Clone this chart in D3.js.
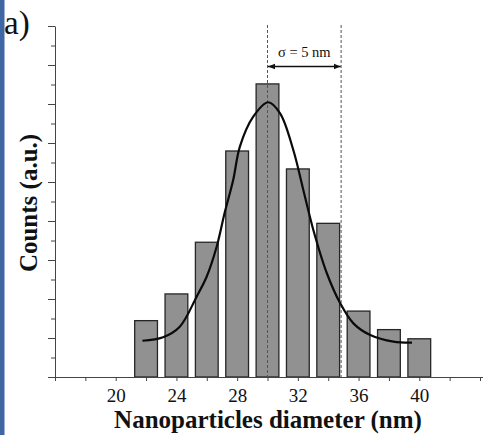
<!DOCTYPE html>
<html>
<head>
<meta charset="utf-8">
<script src="https://cdn.jsdelivr.net/npm/d3@7"></script>
<style>
  html, body { margin: 0; padding: 0; background: #fff; }
  svg { display: block; }
  text { font-family: "Liberation Serif", "Times New Roman", serif; fill: #111; }
</style>
</head>
<body>
<svg id="chart" width="485" height="435"></svg>
<script>
// Histogram bins (nm) and counts (a.u.)
const diameters = [22, 24, 26, 28, 30, 32, 34, 36, 38, 40];
const counts = [2.89, 4.26, 6.91, 11.59, 15.03, 10.67, 7.88, 3.38, 2.43, 1.96];
// Fitted curve
const fitX = [21.76, 23.12, 24.22, 25.33, 25.99, 26.65, 27.19, 27.74, 28.18, 29.06, 30.05,
              30.83, 31.70, 32.36, 33.02, 33.91, 34.79, 35.66, 36.77, 38.30, 39.52];
const fitY = [1.86, 2.04, 2.58, 4.12, 5.14, 6.68, 8.46, 10.1, 11.81, 13.35, 14.09,
              13.52, 11.64, 9.59, 7.54, 5.32, 3.78, 2.75, 2.15, 1.81, 1.76];
// Sigma markers
const sigmaLines = [30, 34.85];
const sigmaLabel = "σ = 5 nm";
const xTickLabels = [20, 24, 28, 32, 36, 40];

const svg = d3.select("#chart");
const m = { left: 55, right: 480, top: 26, bottom: 377 };

// Create scales
const x = d3.scaleLinear().domain([16, 44]).range([m.left, m.right]);
const y = d3.scaleLinear().domain([0, 18]).range([m.bottom, m.top]);

// Blue frame strip on the left
svg.append("rect").attr("x", 0).attr("y", 0).attr("width", 4.5).attr("height", 435).attr("fill", "#3e67a3");

// Bars
svg.append("g").selectAll("rect")
  .data(diameters)
  .join("rect")
    .attr("x", (d) => x(d - 0.75))
    .attr("width", x(1.5) - x(0))
    .attr("y", (d, i) => y(counts[i]))
    .attr("height", (d, i) => y(0) - y(counts[i]))
    .attr("fill", "#919191")
    .attr("stroke", "#262626")
    .attr("stroke-width", 1.3);

// Dashed sigma lines
svg.append("g").selectAll("line")
  .data(sigmaLines)
  .join("line")
    .attr("x1", (d) => x(d)).attr("x2", (d) => x(d))
    .attr("y1", y(18) - 1).attr("y2", y(0))
    .attr("stroke", "#555")
    .attr("stroke-width", 1)
    .attr("stroke-dasharray", "3,2");

// Fitted curve
const line = d3.line()
  .x((d, i) => x(fitX[i]))
  .y((d) => y(d))
  .curve(d3.curveCatmullRom);
svg.append("path")
  .attr("d", line(fitY))
  .attr("fill", "none")
  .attr("stroke", "#0a0a0a")
  .attr("stroke-width", 2.2);

// Double arrow for sigma
const defs = svg.append("defs");
defs.append("marker")
  .attr("id", "arr")
  .attr("viewBox", "0 0 10 10")
  .attr("refX", 10).attr("refY", 5)
  .attr("markerWidth", 7).attr("markerHeight", 7)
  .attr("markerUnits", "userSpaceOnUse")
  .attr("orient", "auto-start-reverse")
  .append("path").attr("d", "M0,1 L10,5 L0,9 Z").attr("fill", "#111");
svg.append("line")
  .attr("x1", x(sigmaLines[0]) + 0.5).attr("x2", x(sigmaLines[1]) - 0.5)
  .attr("y1", 66.5).attr("y2", 66.5)
  .attr("stroke", "#111").attr("stroke-width", 1.3)
  .attr("marker-start", "url(#arr)").attr("marker-end", "url(#arr)");
svg.append("text")
  .attr("x", (x(sigmaLines[0]) + x(sigmaLines[1])) / 2)
  .attr("y", 57)
  .attr("text-anchor", "middle")
  .attr("font-size", 14.5)
  .text(sigmaLabel);

// X axis
const xAxis = svg.append("g").attr("transform", `translate(0,${m.bottom})`)
  .call(d3.axisBottom(x)
    .tickValues(d3.range(16, 45, 2))
    .tickSize(4).tickSizeOuter(0)
    .tickFormat((d) => xTickLabels.includes(d) ? d : ""));
xAxis.select(".domain").attr("stroke", "#444").attr("d", `M${m.left},0.5H${m.right + 3}`);
xAxis.selectAll(".tick line").attr("stroke", "#444");
xAxis.selectAll(".tick text")
  .attr("font-family", "Liberation Serif, serif")
  .attr("font-size", 19).attr("fill", "#111").attr("dy", null).attr("y", 25);

// Y axis
const yAxis = svg.append("g").attr("transform", `translate(${m.left},0)`)
  .call(d3.axisLeft(y).tickValues(d3.range(0, 19, 1)).tickSize(4).tickSizeOuter(0).tickFormat(""));
yAxis.select(".domain").attr("stroke", "#444");
yAxis.selectAll(".tick line").attr("stroke", "#444").attr("x2", (d) => d % 2 === 0 ? -7 : -4);

// Panel label
svg.append("text").attr("x", 4).attr("y", 34).attr("font-size", 33).text("a)");

// Axis titles
svg.append("text")
  .attr("x", 268).attr("y", 428)
  .attr("text-anchor", "middle")
  .attr("font-size", 25).attr("font-weight", "bold")
  .text("Nanoparticles diameter (nm)");
svg.append("text")
  .attr("transform", "translate(37,203) rotate(-90)")
  .attr("text-anchor", "middle")
  .attr("font-size", 25).attr("font-weight", "bold")
  .text("Counts (a.u.)");
</script>
</body>
</html>
